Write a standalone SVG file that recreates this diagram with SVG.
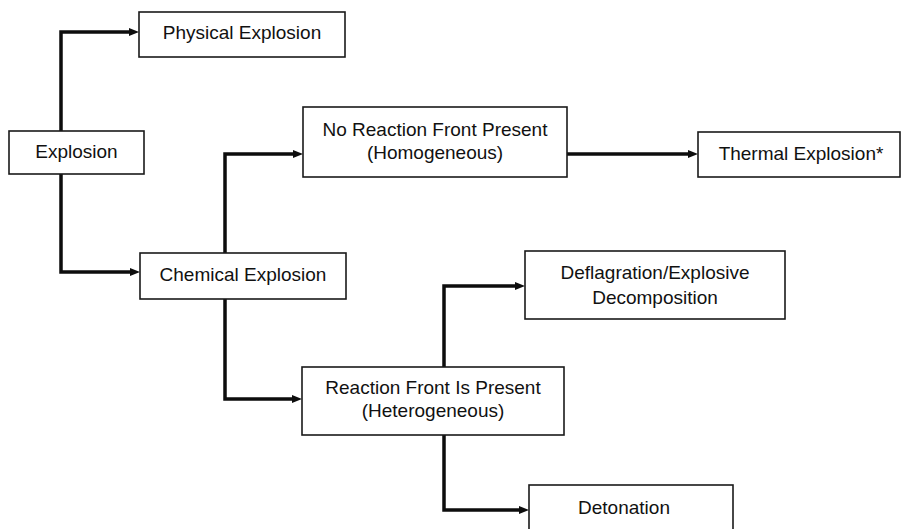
<svg xmlns="http://www.w3.org/2000/svg" width="901" height="529" viewBox="0 0 901 529">
  <style>
    .box { fill: #ffffff; stroke: #1a1a1a; stroke-width: 1.6; }
    .label { font-family: "Liberation Sans", Arial, sans-serif; font-size: 19px; fill: #111111; text-anchor: middle; }
    .wire { fill: none; stroke: #0d0d0d; stroke-width: 3.5; stroke-linejoin: miter; }
  </style>
  <defs>
    <marker id="arrow" markerUnits="userSpaceOnUse" markerWidth="10" markerHeight="9" viewBox="0 -4.5 10 9" refX="0" refY="0" orient="auto">
      <path d="M0,-4 L10,0 L0,4 Z" fill="#0d0d0d"/>
    </marker>
  </defs>

  <rect width="901" height="529" fill="#ffffff"/>

  <!-- connectors -->
  <g id="connectors">
    <path class="wire" d="M61,131 V32 H129" marker-end="url(#arrow)"/>
    <path class="wire" d="M61,174 V272 H130" marker-end="url(#arrow)"/>
    <path class="wire" d="M225,253 V154 H293" marker-end="url(#arrow)"/>
    <path class="wire" d="M567,154 H688" marker-end="url(#arrow)"/>
    <path class="wire" d="M225,299 V399 H292" marker-end="url(#arrow)"/>
    <path class="wire" d="M444,367 V286 H515" marker-end="url(#arrow)"/>
    <path class="wire" d="M444,435 V510 H519" marker-end="url(#arrow)"/>
  </g>

  <!-- nodes -->
  <g id="explosion">
    <rect class="box" x="9" y="131" width="135" height="43"/>
    <text class="label" x="76.5" y="158">Explosion</text>
  </g>

  <g id="physical-explosion">
    <rect class="box" x="139" y="12" width="206" height="45"/>
    <text class="label" x="242" y="39">Physical Explosion</text>
  </g>

  <g id="chemical-explosion">
    <rect class="box" x="140" y="253" width="206" height="46"/>
    <text class="label" x="243" y="281">Chemical Explosion</text>
  </g>

  <g id="no-reaction-front">
    <rect class="box" x="303" y="107" width="264" height="70"/>
    <text class="label" x="435" y="136">No Reaction Front Present</text>
    <text class="label" x="435" y="159">(Homogeneous)</text>
  </g>

  <g id="thermal-explosion">
    <rect class="box" x="698" y="132" width="202" height="45"/>
    <text class="label" x="801" y="160">Thermal Explosion*</text>
  </g>

  <g id="reaction-front">
    <rect class="box" x="302" y="367" width="262" height="68"/>
    <text class="label" x="433" y="394">Reaction Front Is Present</text>
    <text class="label" x="433" y="417">(Heterogeneous)</text>
  </g>

  <g id="deflagration">
    <rect class="box" x="525" y="251" width="260" height="68"/>
    <text class="label" x="655" y="279">Deflagration/Explosive</text>
    <text class="label" x="655" y="304">Decomposition</text>
  </g>

  <g id="detonation">
    <rect class="box" x="529" y="485" width="204" height="60"/>
    <text class="label" x="624" y="514">Detonation</text>
  </g>
</svg>
